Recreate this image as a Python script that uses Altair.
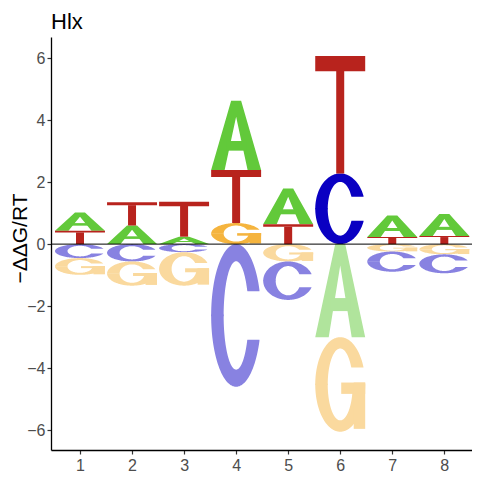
import numpy as np
import pandas as pd
import altair as alt

# ---- data (energy logo, -ddG/RT per base) ----
positions = [1, 2, 3, 4, 5, 6, 7, 8]
val_A = [0.59, 0.60, 0.24, 2.23, 1.15, -3.00, 0.69, 0.71]
val_C = [-0.45, -0.56, -0.26, -4.60, -1.24, 2.28, -0.65, -0.61]
val_G = [-0.54, -0.78, -1.08, 0.68, -0.56, -3.05, -0.24, -0.33]
val_T = [0.43, 0.75, 1.13, 1.71, 0.64, 3.79, 0.23, 0.26]
y_ticks = [-6, -4, -2, 0, 2, 4, 6]

color_pos = {"A": "#62C93A", "C": "#0A00C2", "G": "#F5B43E", "T": "#B8231D"}
color_neg = {"A": "#B0E49C", "C": "#8882E1", "G": "#FAD99E", "T": "#DB918E"}

LETTER_W = 0.96
EPS = 0.006


# ---- glyph templates in a unit box (x across, y up) ----
def ring_half(top, cut, rxi=0.25, ryi=0.38):
    t = np.linspace(0, np.pi, 61)
    xs = list(0.5 - 0.5 * np.cos(t)) + list(0.5 - rxi * np.cos(t))
    if cut is not None:
        d = (cut - 0.5) / 0.5
        xs.append(0.5 + 0.5 * np.sqrt(max(0.0, 1 - d * d)))
    xs = np.unique(np.round(np.array(xs), 6))
    out_x, lo, hi = [], [], []
    for x in xs:
        u = (x - 0.5) / 0.5
        od = 0.5 * np.sqrt(max(0.0, 1 - u * u))
        if abs(x - 0.5) < rxi:
            v = (x - 0.5) / rxi
            idd = ryi * np.sqrt(max(0.0, 1 - v * v))
        else:
            idd = -EPS
        if top:
            yh = 0.5 + od
            yl = 0.5 + idd
            if cut is not None and x >= 0.5:
                yl = max(yl, cut)
            if yh + 1e-9 < yl:
                continue
        else:
            yl = 0.5 - od
            yh = 0.5 - idd
            if cut is not None and x >= 0.5:
                yh = min(yh, cut)
            if yh + 1e-9 < yl:
                continue
        out_x.append(x)
        lo.append(yl)
        hi.append(max(yh, yl))
    return (out_x, lo, hi)


def glyph(letter):
    areas, rects = [], []
    if letter == "A":
        areas.append(([0, 0.27, 0.40, 0.5, 0.60, 0.73, 1.0],
                      [0, 0, 0.435, 0.77, 0.435, 0, 0],
                      [0, 0.675, 1.0, 1.0, 1.0, 0.675, 0]))
        rects.append((0.30, 0.70, 0.28, 0.42))
    elif letter == "T":
        rects.append((0.0, 1.0, 0.87, 1.0))
        rects.append((0.42, 0.58, 0.0, 0.875))
    elif letter == "C":
        areas.append(ring_half(True, 0.67))
        areas.append(ring_half(False, 0.33))
    elif letter == "G":
        areas.append(ring_half(True, 0.68))
        areas.append(ring_half(False, None))
        rects.append((0.52, 1.0, 0.40, 0.52))
        rects.append((0.77, 1.0, 0.03, 0.52))
    return areas, rects


# ---- stack letters per position ----
values = {"A": val_A, "C": val_C, "G": val_G, "T": val_T}
area_rows, rect_rows = [], []
pid = 0
for i, pos in enumerate(positions):
    col = [(L, values[L][i]) for L in "ACGT"]
    pos_l = sorted([c for c in col if c[1] > 0], key=lambda c: c[1])
    neg_l = sorted([c for c in col if c[1] < 0], key=lambda c: -c[1])
    boxes = []
    cum = 0.0
    for L, v in pos_l:
        boxes.append((L, cum, v, color_pos[L]))
        cum += v
    cum = 0.0
    for L, v in neg_l:
        h = -v
        boxes.append((L, -(cum + h), h, color_neg[L]))
        cum += h
    for L, base, h, fill in boxes:
        areas, rects = glyph(L)
        x0 = pos - LETTER_W / 2
        for xs, lo, hi in areas:
            pid += 1
            for x, yl, yh in zip(xs, lo, hi):
                area_rows.append({"X": x0 + x * LETTER_W, "Ylo": base + yl * h,
                                  "Yhi": base + yh * h, "piece": pid, "fill": fill})
        for (ax, bx, ay, by) in rects:
            rect_rows.append({"X": x0 + ax * LETTER_W, "X2": x0 + bx * LETTER_W,
                              "Y": base + ay * h, "Y2": base + by * h, "fill": fill})

df_area = pd.DataFrame(area_rows)
df_rect = pd.DataFrame(rect_rows)

x_scale = alt.Scale(domain=[0.443, 8.532], nice=False, zero=False)
y_scale = alt.Scale(domain=[-6.64, 6.68], nice=False, zero=False)

x_axis = alt.Axis(values=positions, format="d", title=None, labelPadding=3)
y_axis = alt.Axis(values=y_ticks, title="−ΔΔG/RT", labelPadding=2,
                  titleAngle=270, titleAlign="center", titleBaseline="bottom",
                  titleX=-21, titleY=201)

areas = alt.Chart(df_area).mark_area(interpolate="linear", strokeWidth=0).encode(
    x=alt.X("X:Q", scale=x_scale, axis=x_axis),
    y=alt.Y("Ylo:Q", scale=y_scale, axis=y_axis, stack=None),
    y2="Yhi:Q",
    detail="piece:N",
    fill=alt.Fill("fill:N", scale=None),
)

rects = alt.Chart(df_rect).mark_rect(strokeWidth=0).encode(
    x=alt.X("X:Q", scale=x_scale, axis=x_axis),
    x2="X2:Q",
    y=alt.Y("Y:Q", scale=y_scale, axis=y_axis),
    y2="Y2:Q",
    fill=alt.Fill("fill:N", scale=None),
)

zero = alt.Chart(pd.DataFrame({"z": [0]})).mark_rule(color="black", strokeWidth=1).encode(
    y=alt.Y("z:Q", scale=y_scale, axis=y_axis)
)

chart = alt.layer(areas, rects, zero).properties(
    width=421,
    height=413,
    autosize="none",
    padding={"left": 43, "top": 29, "right": 0, "bottom": 22},
    title=alt.Title("Hlx", anchor="start", frame="group", fontSize=22,
                    font="Liberation Sans", fontWeight="normal", color="black",
                    offset=3),
).configure_view(stroke=None).configure_axis(
    grid=False,
    domainColor="black",
    domainWidth=1.3,
    tickColor="#333333",
    tickWidth=1.2,
    tickSize=4,
    labelColor="#4D4D4D",
    labelFont="Liberation Sans",
    labelFontSize=16,
    titleFont="Liberation Sans",
    titleFontSize=21,
    titleFontWeight="normal",
    titleColor="black",
)

chart.save("out.html", embed_options={"renderer": "svg", "actions": False})
